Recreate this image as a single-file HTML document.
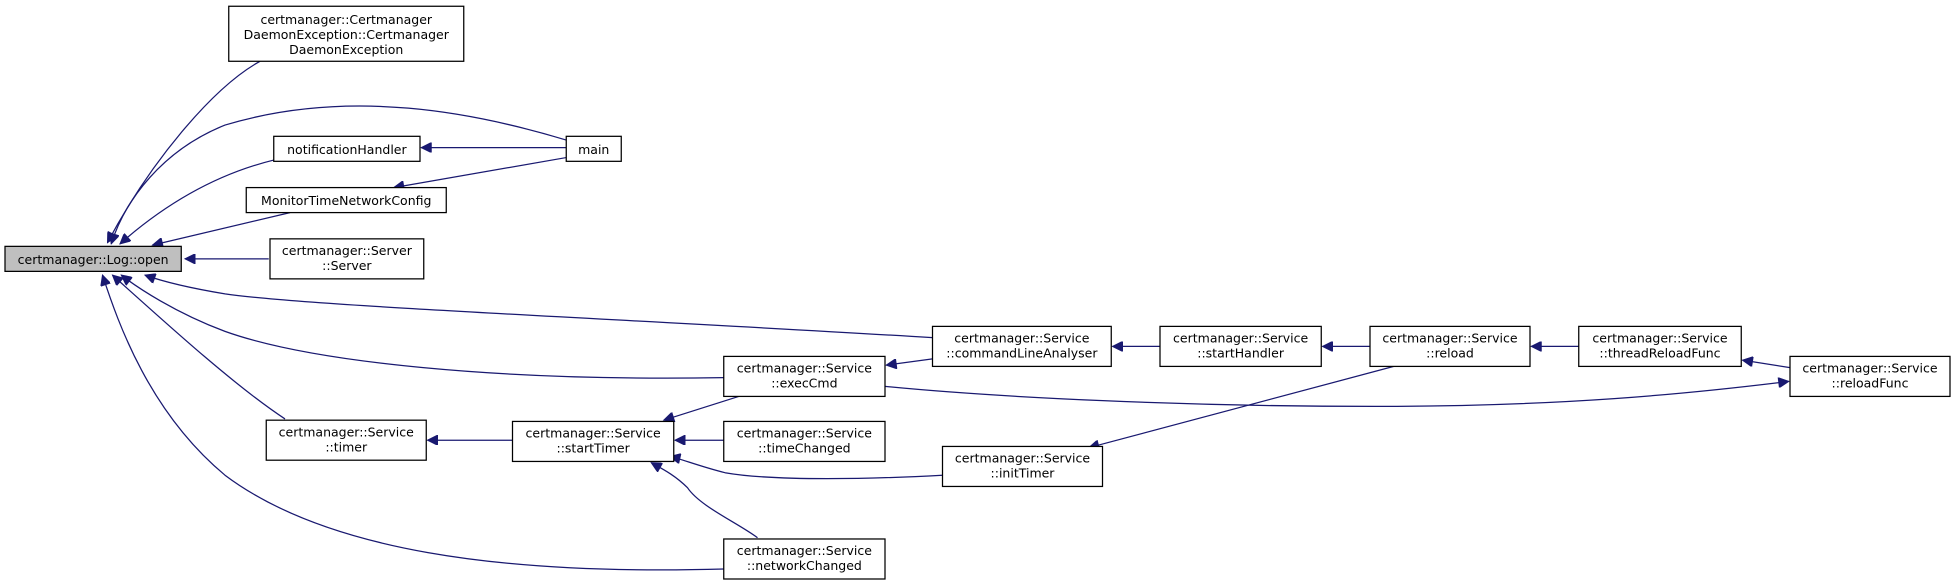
<!DOCTYPE html>
<html><head><meta charset="utf-8"><style>
html,body{margin:0;padding:0;background:#fff;}
svg{display:block}
text{font-family:"DejaVu Sans","Liberation Sans",sans-serif;font-size:10px;fill:#000;text-anchor:middle}
rect{fill:#fff;stroke:#000;stroke-width:1}
path{fill:none;stroke:#191970;stroke-width:1}
</style></head><body>
<svg width="1960" height="584" viewBox="0 0 1568 467" preserveAspectRatio="none">
<defs><marker id="a" viewBox="0 0 10 10" refX="0" refY="5" markerWidth="10" markerHeight="8" orient="auto" markerUnits="userSpaceOnUse"><path d="M10,0 L0,5 L10,10 z" style="fill:#191970;stroke:#191970"/></marker></defs>
<g marker-start="url(#a)">
<path d="M86,194 C120,130 170,70 208,49"/>
<path d="M89,195 C100,160 130,120 180,100 C280,70 380,90 453,112"/>
<path d="M96,195 C130,165 170,140 219,128"/>
<path d="M122,196 L232,170"/>
<path d="M148,207 L215,207"/>
<path d="M116,220 C130,225 150,230 180,235 C250,245 500,255 746,270"/>
<path d="M97,220 C110,230 140,250 180,265 C250,290 400,305 579,302"/>
<path d="M90,220 C140,265 190,310 228,335"/>
<path d="M82,220 C95,260 120,330 180,380 C260,440 400,460 579,455"/>
<path d="M337,118 L453,118"/>
<path d="M315,150 L453,126"/>
<path d="M709,292 L746,287"/>
<path d="M890,277 L928,277"/>
<path d="M1058,277 L1096,277"/>
<path d="M1225,277 L1263,277"/>
<path d="M1394,288 L1432,294"/>
<path d="M1431,305 C1350,315 1250,325 1100,325 C950,325 800,318 708,309"/>
<path d="M531,336 L591,317"/>
<path d="M342,352 L410,352"/>
<path d="M540,352 L579,352"/>
<path d="M536,365 C545,367 560,373 580,378 C620,385 700,383 754,380"/>
<path d="M521,370 C530,375 540,380 550,390 C560,405 590,418 606,430"/>
<path d="M871,358 L1115,293"/>
</g>
<rect x="4" y="197" width="141" height="20" style="fill:#bfbfbf"/><text x="74.5" y="211">certmanager::Log::open</text>
<rect x="183" y="5" width="188" height="44"/><text x="277" y="19">certmanager::Certmanager</text><text x="277" y="31">DaemonException::Certmanager</text><text x="277" y="43">DaemonException</text>
<rect x="219" y="109" width="117" height="20"/><text x="277.5" y="123">notificationHandler</text>
<rect x="453" y="109" width="44" height="20"/><text x="475" y="123">main</text>
<rect x="197" y="150" width="160" height="20"/><text x="277" y="164">MonitorTimeNetworkConfig</text>
<rect x="216" y="191" width="123" height="32"/><text x="277.5" y="204">certmanager::Server</text><text x="277.5" y="216">::Server</text>
<rect x="746" y="261" width="143" height="32"/><text x="817.5" y="274">certmanager::Service</text><text x="817.5" y="286">::commandLineAnalyser</text>
<rect x="928" y="261" width="129" height="32"/><text x="992.5" y="274">certmanager::Service</text><text x="992.5" y="286">::startHandler</text>
<rect x="1096" y="261" width="128" height="32"/><text x="1160" y="274">certmanager::Service</text><text x="1160" y="286">::reload</text>
<rect x="1263" y="261" width="130" height="32"/><text x="1328" y="274">certmanager::Service</text><text x="1328" y="286">::threadReloadFunc</text>
<rect x="1432" y="285" width="128" height="32"/><text x="1496" y="298">certmanager::Service</text><text x="1496" y="310">::reloadFunc</text>
<rect x="579" y="285" width="129" height="32"/><text x="643.5" y="298">certmanager::Service</text><text x="643.5" y="310">::execCmd</text>
<rect x="213" y="336" width="128" height="32"/><text x="277" y="349">certmanager::Service</text><text x="277" y="361">::timer</text>
<rect x="410" y="337" width="129" height="32"/><text x="474.5" y="350">certmanager::Service</text><text x="474.5" y="362">::startTimer</text>
<rect x="579" y="337" width="129" height="32"/><text x="643.5" y="350">certmanager::Service</text><text x="643.5" y="362">::timeChanged</text>
<rect x="754" y="357" width="128" height="32"/><text x="818" y="370">certmanager::Service</text><text x="818" y="382">::initTimer</text>
<rect x="579" y="431" width="129" height="32"/><text x="643.5" y="444">certmanager::Service</text><text x="643.5" y="456">::networkChanged</text>
</svg>
</body></html>
